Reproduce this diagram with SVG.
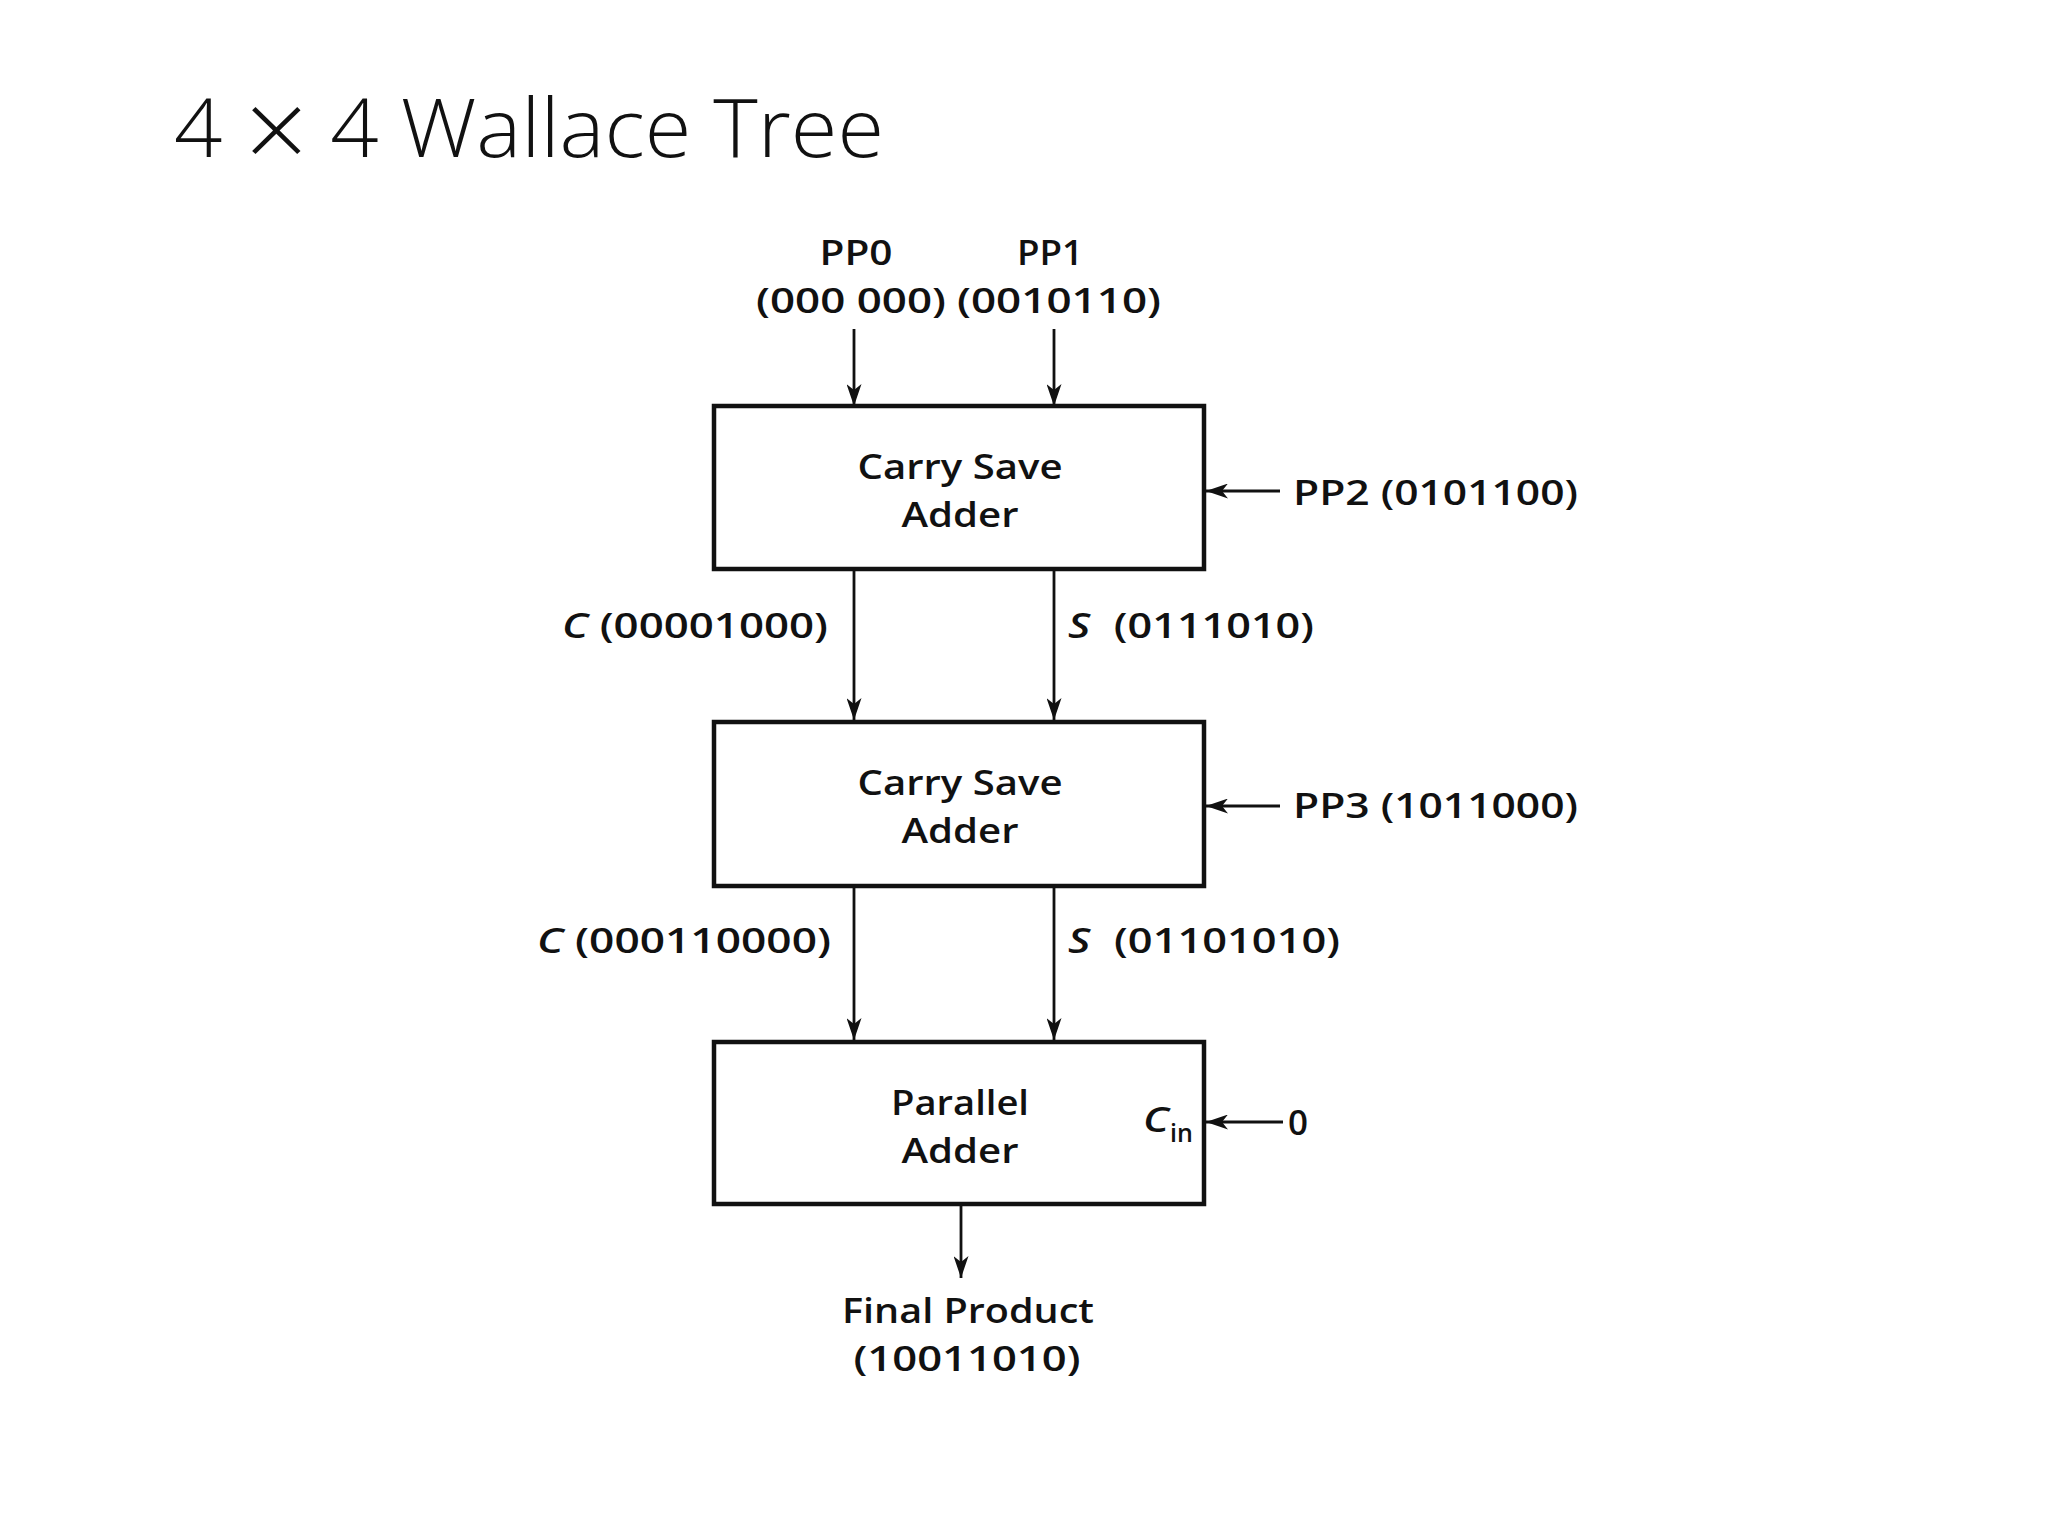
<svg xmlns="http://www.w3.org/2000/svg" width="2048" height="1536" viewBox="0 0 2048 1536">
<style>
.t{font-family:"Open Sans","Liberation Sans",sans-serif;font-weight:600;font-size:35px;fill:#111}
.m{text-anchor:middle}
.i{font-style:italic}
.box{fill:#fff;stroke:#111;stroke-width:4.5}
.w{stroke:#111;stroke-width:2.8;fill:none;marker-end:url(#ah)}
.title{font-family:"Open Sans","Liberation Sans",sans-serif;font-weight:300;font-size:82px;fill:#111}
</style>
<defs>
<marker id="ah" viewBox="0 0 22 15" refX="22" refY="7.5" markerWidth="22" markerHeight="15" markerUnits="userSpaceOnUse" orient="auto">
<path d="M0,0 L22,7.5 L0,15 L6,7.5 Z" fill="#111"/>
</marker>
</defs>
<rect width="2048" height="1536" fill="#fff"/>
<text class="title" x="174" y="157" textLength="710" lengthAdjust="spacingAndGlyphs">4 <tspan style="font-size:108px" dy="12">×</tspan><tspan dy="-12"> 4 Wallace Tree</tspan></text>

<g id="connectors">
<line class="w" x1="854" y1="329" x2="854" y2="406"/>
<line class="w" x1="1054" y1="329" x2="1054" y2="406"/>
<line class="w" x1="1280" y1="491" x2="1206" y2="491"/>
<line class="w" x1="854" y1="571" x2="854" y2="720"/>
<line class="w" x1="1054" y1="571" x2="1054" y2="720"/>
<line class="w" x1="1280" y1="806" x2="1206" y2="806"/>
<line class="w" x1="854" y1="888" x2="854" y2="1040"/>
<line class="w" x1="1054" y1="888" x2="1054" y2="1040"/>
<line class="w" x1="1283" y1="1122" x2="1206" y2="1122"/>
<line class="w" x1="961" y1="1206" x2="961" y2="1278"/>
</g>

<g id="labels">
<text class="t m" x="856" y="265" textLength="73" lengthAdjust="spacingAndGlyphs">PP0</text>
<text class="t m" x="1050" y="265" textLength="66" lengthAdjust="spacingAndGlyphs">PP1</text>
<text class="t m" x="851" y="313" textLength="190" lengthAdjust="spacingAndGlyphs">(000 000)</text>
<text class="t m" x="1059" y="313" textLength="204" lengthAdjust="spacingAndGlyphs">(0010110)</text>
<text class="t" x="1293" y="505" textLength="285" lengthAdjust="spacingAndGlyphs">PP2 (0101100)</text>
<text class="t" x="562" y="638" textLength="266" lengthAdjust="spacingAndGlyphs"><tspan class="i">C</tspan> (00001000)</text>
<text class="t" x="1068" y="638" textLength="246" lengthAdjust="spacingAndGlyphs"><tspan class="i">S</tspan><tspan dx="10"> (0111010)</tspan></text>
<text class="t" x="1293" y="818" textLength="285" lengthAdjust="spacingAndGlyphs">PP3 (1011000)</text>
<text class="t" x="537" y="953" textLength="294" lengthAdjust="spacingAndGlyphs"><tspan class="i">C</tspan> (000110000)</text>
<text class="t" x="1068" y="953" textLength="272" lengthAdjust="spacingAndGlyphs"><tspan class="i">S</tspan><tspan dx="10"> (01101010)</tspan></text>
<text class="t" x="1288" y="1135">0</text>
<text class="t m" x="968" y="1323" textLength="252" lengthAdjust="spacingAndGlyphs">Final Product</text>
<text class="t m" x="967" y="1371" textLength="227" lengthAdjust="spacingAndGlyphs">(10011010)</text>
</g>

<g id="csa1">
<rect class="box" x="714" y="406" width="490" height="163"/>
<text class="t m" x="960" y="479" textLength="205" lengthAdjust="spacingAndGlyphs">Carry Save</text>
<text class="t m" x="960" y="527" textLength="117" lengthAdjust="spacingAndGlyphs">Adder</text>
</g>

<g id="csa2">
<rect class="box" x="714" y="722" width="490" height="164"/>
<text class="t m" x="960" y="795" textLength="205" lengthAdjust="spacingAndGlyphs">Carry Save</text>
<text class="t m" x="960" y="843" textLength="117" lengthAdjust="spacingAndGlyphs">Adder</text>
</g>

<g id="pa">
<rect class="box" x="714" y="1042" width="490" height="162"/>
<text class="t m" x="960" y="1115" textLength="138" lengthAdjust="spacingAndGlyphs">Parallel</text>
<text class="t m" x="960" y="1163" textLength="117" lengthAdjust="spacingAndGlyphs">Adder</text>
<text class="t i" x="1143" y="1132" textLength="26" lengthAdjust="spacingAndGlyphs">C</text>
<text class="t" x="1170" y="1142" style="font-size:25px">in</text>
</g>
</svg>
